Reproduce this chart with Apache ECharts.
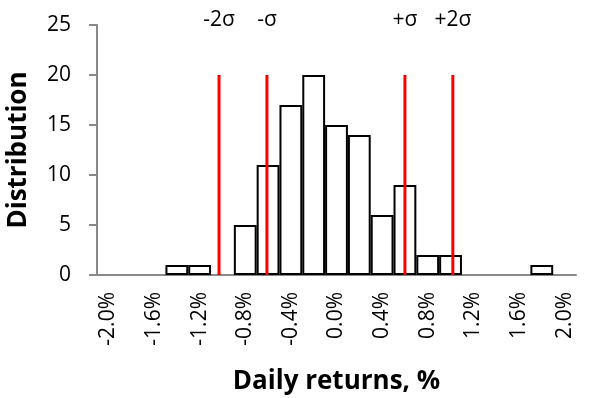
<!DOCTYPE html>
<html>
<head>
<meta charset="utf-8">
<script src="https://cdn.jsdelivr.net/npm/echarts@6/dist/echarts.min.js"></script>
<style>html,body{margin:0;padding:0;background:#fff;width:100%;height:100%;overflow:hidden}#c{width:597px;height:398px}</style>
</head>
<body>
<div id="c"></div>
<script>
const categories = ['-2.0%','-1.8%','-1.6%','-1.4%','-1.2%','-1.0%','-0.8%','-0.6%','-0.4%','-0.2%','0.0%','0.2%','0.4%','0.6%','0.8%','1.0%','1.2%','1.4%','1.6%','1.8%','2.0%'];
const counts = [0,0,0,1,1,0,5,11,17,20,15,14,6,9,2,2,0,0,0,1,0];
const sigmaValues = [-1.03,-0.61,0.60,1.02];
const sigmaLabels = ['-2σ','-σ','+σ','+2σ'];
const sigmaLineTop = 20;
const yMin = 0, yMax = 25, yStep = 5;
const xRangeMin = -2.1, xRangeMax = 2.1;

const FONT = 'Open Sans';
const AXIS_GRAY = '#898989';

const chart = echarts.init(document.getElementById('c'), null, {renderer:'canvas', width:597, height:398});

const series = [{
  type:'bar',
  data: counts.map(v => v === 0 ? '-' : v),
  barCategoryGap:'0%',
  itemStyle:{color:'#ffffff', borderColor:'#000000', borderWidth:2},
  silent:true,
  z:2
}];
sigmaValues.forEach((v,i) => {
  series.push({
    type:'line', xAxisIndex:1, yAxisIndex:0,
    data:[[v,0],[v,sigmaLineTop]],
    symbol:'none',
    lineStyle:{color:'#ff0000', width:3},
    silent:true, z:5
  });
});
series.push({
  type:'scatter', xAxisIndex:1, yAxisIndex:0,
  data: sigmaValues.map((v,i) => ({value:[v,yMax], name:sigmaLabels[i]})),
  symbolSize:0,
  itemStyle:{color:'#000000', opacity:1},
  label:{show:true, position:'top', distance:0, offset:[0,6], formatter:p => p.name,
         color:'#000000', opacity:1, fontFamily:FONT, fontSize:21},
  emphasis:{disabled:true},
  silent:true, z:6
});

chart.setOption({
  animation:false,
  grid:{left:97, right:21, top:25, bottom:123, containLabel:false, outerBoundsMode:'none'},
  xAxis:[{
    type:'category', data:categories, boundaryGap:true,
    axisLine:{onZero:false, lineStyle:{color:AXIS_GRAY, width:2}},
    axisTick:{interval:0, alignWithLabel:false, length:8, lineStyle:{color:AXIS_GRAY, width:2}},
    axisLabel:{interval:1, rotate:90, margin:17, color:'#000', fontFamily:FONT, fontSize:21},
    name:'Daily returns, %', nameLocation:'middle', nameGap:94,
    nameTextStyle:{color:'#000', fontFamily:FONT, fontSize:26, fontWeight:'bold'},
    splitLine:{show:false}
  },{
    type:'value', min:xRangeMin, max:xRangeMax, show:false, position:'bottom'
  }],
  yAxis:[{
    type:'value', min:yMin, max:yMax, interval:yStep,
    axisLine:{show:true, onZero:false, lineStyle:{color:AXIS_GRAY, width:2}},
    axisTick:{show:true, length:8, lineStyle:{color:AXIS_GRAY, width:2}},
    axisLabel:{margin:26, color:'#000', fontFamily:FONT, fontSize:21},
    splitLine:{show:false},
    name:'Distribution', nameLocation:'middle', nameGap:65,
    nameTextStyle:{color:'#000', fontFamily:FONT, fontSize:26, fontWeight:'bold'}
  }],
  series:series
});
</script>
</body>
</html>
